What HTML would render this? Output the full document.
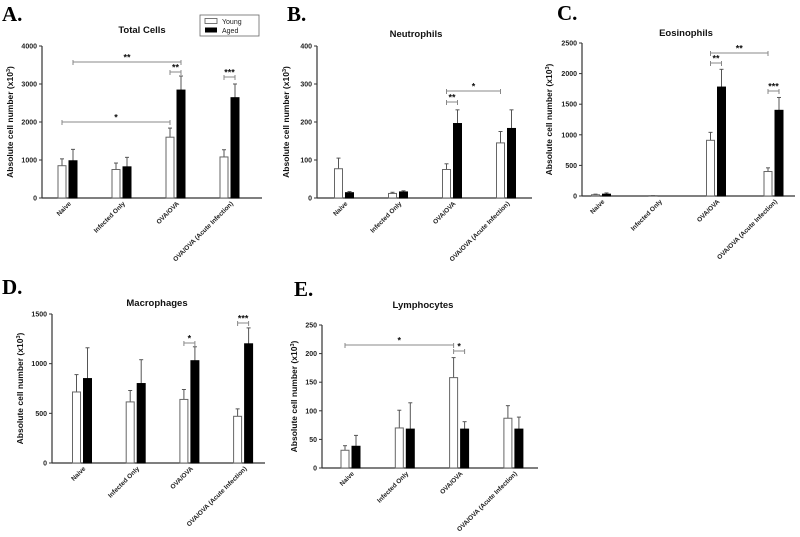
<!DOCTYPE html>
<html><head><meta charset="utf-8"><style>
html,body{margin:0;padding:0;background:#fff;}
svg{display:block;font-family:"Liberation Sans",Arial,sans-serif;}
</style></head><body>
<svg id="fig" width="800" height="537" viewBox="0 0 800 537" xmlns="http://www.w3.org/2000/svg"></svg>
<script>
const categories = ["Naive","Infected Only","OVA/OVA","OVA/OVA (Acute Infection)"];
// Panel A - Total Cells
const totalYoung = [850, 750, 1600, 1080];
const totalYoungErr = [1030, 920, 1840, 1270];
const totalAged = [980, 820, 2840, 2640];
const totalAgedErr = [1280, 1070, 3210, 3000];
const totalTicks = [0, 1000, 2000, 3000, 4000];
// Panel B - Neutrophils
const neutYoung = [77, 12, 75, 145];
const neutYoungErr = [105, 15, 90, 175];
const neutAged = [14, 16, 196, 183];
const neutAgedErr = [17, 19, 232, 232];
const neutTicks = [0, 100, 200, 300, 400];
// Panel C - Eosinophils
const eosYoung = [20, 5, 910, 400];
const eosYoungErr = [30, 8, 1040, 460];
const eosAged = [30, 0, 1780, 1400];
const eosAgedErr = [50, 0, 2070, 1610];
const eosTicks = [0, 500, 1000, 1500, 2000, 2500];
// Panel D - Macrophages
const macYoung = [715, 615, 640, 470];
const macYoungErr = [890, 730, 740, 545];
const macAged = [850, 800, 1030, 1200];
const macAgedErr = [1160, 1040, 1170, 1360];
const macTicks = [0, 500, 1000, 1500];
// Panel E - Lymphocytes
const lymYoung = [31, 70, 158, 87];
const lymYoungErr = [39, 101, 193, 109];
const lymAged = [38, 68, 68, 68];
const lymAgedErr = [57, 114, 81, 89];
const lymTicks = [0, 50, 100, 150, 200, 250];

const NS = "http://www.w3.org/2000/svg";
const svg = document.getElementById('fig');
function mk(tag, attrs, parent, text){
  const e = document.createElementNS(NS, tag);
  for (const k in attrs) e.setAttribute(k, attrs[k]);
  if (text !== undefined) e.textContent = text;
  (parent || svg).appendChild(e);
  return e;
}

function panel(p){
  const g = mk('g', {});
  
  
  const ymax = p.ticks[p.ticks.length-1];
  const yS = v => p.y0 - (v / ymax) * (p.y0 - p.yTop);
  const xC = i => p.c0 + i * p.step;
  const L = mk('text', {x:p.lx, y:p.ly, 'font-family':'"Liberation Serif",serif', 'font-size':21, 'font-weight':'bold', fill:'#000'}, g, p.letter);
  
  
  const T = mk('text', {x:p.tx, y:p.ty, 'font-size':9.5, 'font-weight':'bold', 'text-anchor':'middle', fill:'#111'}, g, p.title);
  
  
  const ya = mk('line', {x1:p.ax, y1:p.yTop, x2:p.ax, y2:p.y0, stroke:'#333', 'stroke-width':1.2}, g);
  
  
  const xa = mk('line', {x1:p.ax, y1:p.y0, x2:p.axEnd, y2:p.y0, stroke:'#333', 'stroke-width':1.2}, g);
  
  
  p.ticks.forEach(t => {
    const y = yS(t);
    mk('line', {x1:p.ax-3, y1:y, x2:p.ax, y2:y, stroke:'#333', 'stroke-width':1}, g);
    const tl = mk('text', {x:p.ax-5, y:y+2.5, 'font-size':7, 'font-weight':'bold', 'text-anchor':'end', fill:'#222'}, g, String(t));
    
    
  });
  const yt = mk('text', {x:0, y:0, 'font-size':8.5, 'font-weight':'bold', 'text-anchor':'middle', fill:'#111',
    transform:`translate(${p.ytx},${(p.yTop+p.y0)/2}) rotate(-90)`}, g);
  
  
  yt.appendChild(document.createTextNode('Absolute cell number (x10'));
  mk('tspan', {'font-size':5.5, dy:-3}, yt, '3');
  mk('tspan', {dy:3}, yt, ')');
  const bw = 8, off = 5.5;
  categories.forEach((c, i) => {
    const cx = xC(i);
    [[p.young, p.youngErr, -off, '#fff', 'young'], [p.aged, p.agedErr, off, '#000', 'aged']].forEach(([vals, errs, o, fill, nm]) => {
      const x = cx + o - bw/2;
      const top = yS(vals[i]);
      const et = yS(errs[i]);
      if (errs[i] > vals[i]) {
        mk('line', {x1:cx+o, y1:top, x2:cx+o, y2:et, stroke:'#555', 'stroke-width':1}, g);
        mk('line', {x1:cx+o-2, y1:et, x2:cx+o+2, y2:et, stroke:'#555', 'stroke-width':1}, g);
      }
      const r = mk('rect', {x:x, y:top, width:bw, height:Math.max(0, p.y0-top), fill:fill, stroke:fill==='#fff'?'#666':'#000', 'stroke-width':1}, g);
      
      
    });
    const cl = mk('text', {x:0, y:0, 'font-size':6.5, 'font-weight':'bold', 'text-anchor':'end', fill:'#222',
      transform:`translate(${cx+4},${p.y0+6}) rotate(-45)`}, g, c);
    
    
  });
  p.sig.forEach(s => {
    const x1 = xC(s[0]) + (s[1] ? off : -off);
    const x2 = xC(s[2]) + (s[3] ? off : -off);
    const y = s[4];
    mk('line', {x1:x1, y1:y, x2:x2, y2:y, stroke:'#888', 'stroke-width':1}, g);
    mk('line', {x1:x1, y1:y-2, x2:x1, y2:y+3, stroke:'#888', 'stroke-width':1}, g);
    mk('line', {x1:x2, y1:y-2, x2:x2, y2:y+3, stroke:'#888', 'stroke-width':1}, g);
    const st = mk('text', {x:(x1+x2)/2, y:y-1.5, 'font-size':9, 'font-weight':'bold', 'text-anchor':'middle', fill:'#111'}, g, s[5]);
    
    
  });
}

panel({id:'panel-a-total-cells', letter:'A.', lx:2, ly:21, title:'Total Cells', tx:142, ty:33,
  ax:42, axEnd:262, yTop:46, y0:198, ytx:13, c0:67.5, step:54, ticks:totalTicks,
  young:totalYoung, youngErr:totalYoungErr, aged:totalAged, agedErr:totalAgedErr,
  sig:[[0,1,2,1,62,'**'],[0,0,2,0,122,'*'],[2,0,2,1,72,'**'],[3,0,3,1,77,'***']]});
panel({id:'panel-b-neutrophils', letter:'B.', lx:287, ly:21, title:'Neutrophils', tx:416, ty:37,
  ax:317, axEnd:532, yTop:46, y0:198, ytx:289, c0:344, step:54, ticks:neutTicks,
  young:neutYoung, youngErr:neutYoungErr, aged:neutAged, agedErr:neutAgedErr,
  sig:[[2,0,3,0,91,'*'],[2,0,2,1,102,'**']]});
panel({id:'panel-c-eosinophils', letter:'C.', lx:557, ly:20, title:'Eosinophils', tx:686, ty:36,
  ax:582, axEnd:795, yTop:43, y0:196, ytx:552, c0:601, step:57.5, ticks:eosTicks,
  young:eosYoung, youngErr:eosYoungErr, aged:eosAged, agedErr:eosAgedErr,
  sig:[[2,0,3,0,53,'**'],[2,0,2,1,63,'**'],[3,0,3,1,91,'***']]});
panel({id:'panel-d-macrophages', letter:'D.', lx:2, ly:294, title:'Macrophages', tx:157, ty:306,
  ax:52, axEnd:265, yTop:314, y0:463, ytx:23, c0:82, step:53.7, ticks:macTicks,
  young:macYoung, youngErr:macYoungErr, aged:macAged, agedErr:macAgedErr,
  sig:[[2,0,2,1,343,'*'],[3,0,3,1,323,'***']]});
panel({id:'panel-e-lymphocytes', letter:'E.', lx:294, ly:296, title:'Lymphocytes', tx:423, ty:308,
  ax:322, axEnd:538, yTop:325, y0:468, ytx:297, c0:350.5, step:54.3, ticks:lymTicks,
  young:lymYoung, youngErr:lymYoungErr, aged:lymAged, agedErr:lymAgedErr,
  sig:[[0,0,2,0,345,'*'],[2,0,2,1,351,'*']]});

const lg = mk('g', {});


mk('rect', {x:200, y:15, width:59, height:21, fill:'#fff', stroke:'#666', 'stroke-width':0.8}, lg);
const l1 = mk('rect', {x:205, y:18.5, width:12, height:5, fill:'#fff', stroke:'#555', 'stroke-width':0.8}, lg);


const t1 = mk('text', {x:222, y:24, 'font-size':7, fill:'#222'}, lg, 'Young');


const l2 = mk('rect', {x:205, y:27.5, width:12, height:5, fill:'#000'}, lg);


const t2 = mk('text', {x:222, y:33, 'font-size':7, fill:'#222'}, lg, 'Aged');


</script>
</body></html>
